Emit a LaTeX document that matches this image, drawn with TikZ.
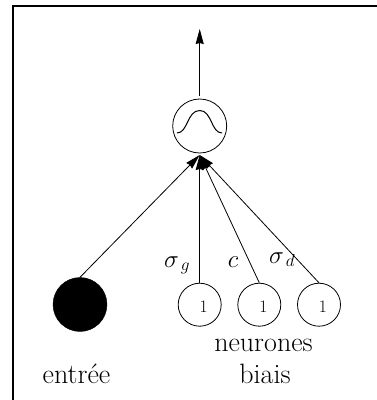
\documentclass[tikz,border=0pt]{standalone}
\usepackage{fontspec}
\usetikzlibrary{arrows.meta}
\tikzset{
  x=1pt,y=-1pt,
  big/.style={circle,draw,line width=0.8pt,minimum size=54pt,inner sep=0pt},
  small/.style={circle,draw,line width=0.8pt,minimum size=43pt,inner sep=0pt},
  solidn/.style={circle,fill=black,draw=black,minimum size=54pt,inner sep=0pt},
  conn/.style={line width=0.8pt,-{Stealth[length=15pt,width=8pt,inset=1pt]}},
  lab/.style={inner sep=0pt,font=\fontsize{28}{30}\selectfont},
  one/.style={inner sep=0pt,font=\fontsize{17.5}{19}\selectfont},
  mathlab/.style={inner sep=0pt,font=\fontsize{26}{28}\selectfont},
  framel/.style={line width=1.3pt}
}
\begin{document}
\begin{tikzpicture}
\useasboundingbox (0,0) rectangle (377,400);
\coordinate (tl) at (13,6);
\coordinate (tr) at (377,6);
\coordinate (bl) at (13,400);
\draw[framel] (bl) -- (tl) -- (tr);
\node[big] (g) at (199.7,126) {};
\node[solidn] (e) at (80,304.5) {};
\node[small] (b1) at (199.7,304.7) {};
\node[small] (b2) at (259.3,304.7) {};
\node[small] (b3) at (319,304.7) {};
\node[one] (o1) at (203.7,306.7) {1};
\node[one] (o2) at (263.3,306.7) {1};
\node[one] (o3) at (323,306.7) {1};
\coordinate (in) at (199.7,155);
\coordinate (out) at (199.7,29);
\coordinate (outs) at (199.7,96);
\draw[conn] (outs) -- (out);
\draw[conn] (e.north) -- (in);
\draw[conn] (b1.north) -- (in);
\draw[conn] (b2.north) -- (in);
\draw[conn] (b3.north) -- (in);
\draw[line width=1pt] (177,133) .. controls (188,133) and (187,110.5) .. (199.7,110.5)
  .. controls (212,110.5) and (211,133) .. (222,133);
\node[mathlab,anchor=base west] (sg) at (164,267) {$\sigma_{\,g}$};
\node[mathlab,anchor=base] (c) at (233,267) {$c$};
\node[mathlab,anchor=base west] (sd) at (269,263) {$\sigma_{\,d}$};
\node[lab,anchor=base] (n) at (263.5,351) {neurones};
\node[lab,anchor=base] (bi) at (265,383) {biais};
\node[lab,anchor=base] (en) at (76.5,383) {entrée};
\end{tikzpicture}
\end{document}
